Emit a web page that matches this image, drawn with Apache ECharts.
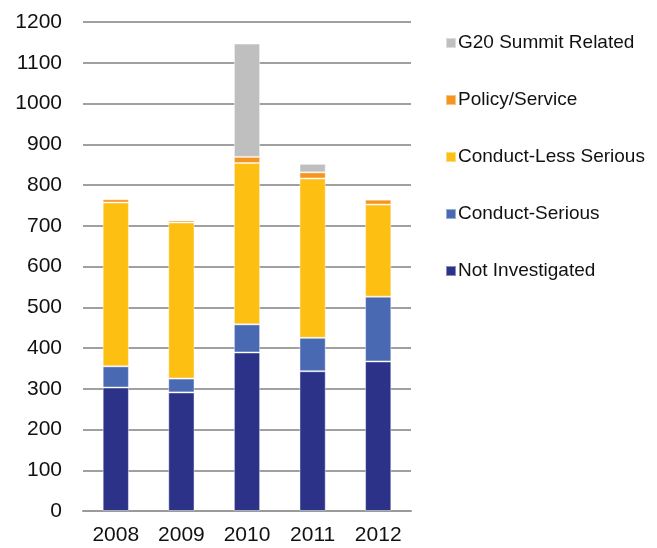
<!DOCTYPE html>
<html>
<head>
<meta charset="utf-8">
<script src="https://cdn.jsdelivr.net/npm/echarts@6/dist/echarts.min.js"></script>
<style>
  html, body { margin: 0; padding: 0; background: #fff; }
  #chart { width: 657px; height: 548px; }
</style>
</head>
<body>
<div id="chart"></div>
<script>
// Complaints by year, stacked by classification
var years = ['2008', '2009', '2010', '2011', '2012'];
var notInvestigated = [303, 291, 389, 343, 367];
var conductSerious = [52, 34, 69, 82, 159];
var conductLessSerious = [402, 383, 396, 391, 226];
var policyService = [8, 5, 15, 15, 12];
var g20Related = [null, null, 278, 21, null];
var legendOrder = ['G20 Summit Related', 'Policy/Service', 'Conduct-Less Serious', 'Conduct-Serious', 'Not Investigated'];

var FONT = '"Liberation Sans", Arial, sans-serif';

function stackSeries(name, data, color) {
  return {
    name: name,
    type: 'bar',
    stack: 'total',
    barWidth: '40%',
    data: data,
    itemStyle: { color: color, borderColor: 'rgba(255,255,255,0.45)', borderWidth: 1 },
    emphasis: { disabled: true }
  };
}

var chart = echarts.init(document.getElementById('chart'), null, { renderer: 'canvas' });
chart.setOption({
  animation: false,
  backgroundColor: '#ffffff',
  textStyle: { fontFamily: FONT },
  grid: { left: 83, right: 246, top: 22, bottom: 37 },
  legend: {
    orient: 'vertical',
    left: 440,
    top: 28,
    data: legendOrder,
    icon: 'rect',
    itemWidth: 10,
    itemHeight: 10,
    itemGap: 37,
    textStyle: { fontFamily: FONT, fontSize: 19, color: '#111', lineHeight: 20, padding: [0, 0, 0, -3] }
  },
  xAxis: {
    type: 'category',
    data: years,
    axisLine: { show: true, lineStyle: { color: '#9a9a9a', width: 2 } },
    axisTick: { show: false },
    axisLabel: { fontFamily: FONT, fontSize: 21, color: '#111', margin: 14 }
  },
  yAxis: {
    type: 'value',
    min: 0,
    max: 1200,
    interval: 100,
    axisLine: { show: false },
    axisTick: { show: false },
    splitLine: { show: true, lineStyle: { color: '#a0a0a0', width: 2 } },
    axisLabel: {
      fontFamily: FONT, fontSize: 21, color: '#111', margin: 21,
      formatter: function (v) { return String(v); }
    }
  },
  series: [
    stackSeries('Not Investigated', notInvestigated, '#2b3288'),
    stackSeries('Conduct-Serious', conductSerious, '#4a69b3'),
    stackSeries('Conduct-Less Serious', conductLessSerious, '#fdbf12'),
    stackSeries('Policy/Service', policyService, '#f7941e'),
    stackSeries('G20 Summit Related', g20Related, '#bfbfbf')
  ]
});
</script>
</body>
</html>
